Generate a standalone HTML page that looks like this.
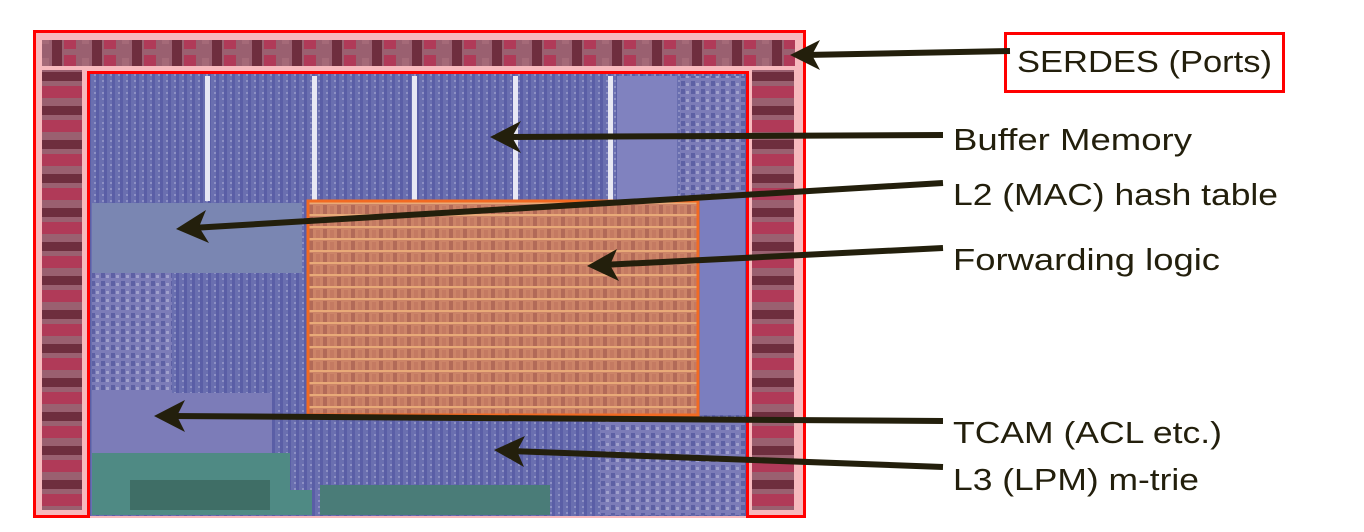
<!DOCTYPE html>
<html><head><meta charset="utf-8"><style>
html,body{margin:0;padding:0;background:#fff;width:1364px;height:532px;overflow:hidden}
svg{display:block}
text{font-family:"Liberation Sans",Arial,sans-serif;fill:#231f0c}
</style></head><body>
<svg width="1364" height="532" viewBox="0 0 1364 532" xmlns="http://www.w3.org/2000/svg">
<defs>
<pattern id="blue" width="8" height="6" patternUnits="userSpaceOnUse">
<rect width="8" height="6" fill="#6a6fb0"/><rect x="0" width="3" height="6" fill="#5a5ea6"/><rect x="6" y="2" width="2" height="2" fill="#8d90c4"/>
</pattern>
<pattern id="blue2" width="10" height="8" patternUnits="userSpaceOnUse">
<rect width="10" height="8" fill="#7c7cb8"/><rect x="1" y="1" width="4" height="5" fill="#5d60a4"/><rect x="6" y="3" width="3" height="3" fill="#a0a0cc"/>
</pattern>
<pattern id="red" width="40" height="26" patternUnits="userSpaceOnUse">
<rect width="40" height="26" fill="#9a6070"/><rect x="12" width="10" height="26" fill="#6e2e3e"/><rect x="24" y="3" width="12" height="20" fill="#b03a58"/><rect x="2" y="6" width="7" height="12" fill="#a56a78"/>
</pattern>
<pattern id="redv" width="40" height="34" patternUnits="userSpaceOnUse">
<rect width="40" height="34" fill="#9a6070"/><rect y="4" width="40" height="9" fill="#6e2e3e"/><rect y="18" width="40" height="12" fill="#b03a58"/>
</pattern>
<pattern id="orange" width="14" height="12" patternUnits="userSpaceOnUse">
<rect width="14" height="12" fill="#cc8468"/><rect x="1" y="1" width="4" height="9" fill="#b26a58"/><rect x="8" y="2" width="4" height="8" fill="#c47a62"/><rect y="10" width="14" height="2" fill="#e8aa78"/>
</pattern>
</defs>
<rect x="33" y="30" width="773" height="488" fill="#f7b9bd"/>
<rect x="42" y="40" width="753" height="26" fill="url(#red)"/>
<rect x="42" y="70" width="40" height="440" fill="url(#redv)"/>
<rect x="752" y="70" width="42" height="440" fill="url(#redv)"/>
<rect x="90" y="74" width="657" height="442" fill="url(#blue)"/>
<rect x="92" y="76" width="515" height="125" fill="url(#blue)"/>
<rect x="205" y="76" width="5" height="125" fill="#e8e8f4"/>
<rect x="312" y="76" width="5" height="125" fill="#e8e8f4"/>
<rect x="412" y="76" width="5" height="125" fill="#e8e8f4"/>
<rect x="513" y="76" width="5" height="125" fill="#e8e8f4"/>
<rect x="608" y="76" width="5" height="125" fill="#e8e8f4"/>
<rect x="617" y="76" width="60" height="125" fill="#8082bf"/>
<rect x="680" y="76" width="65" height="125" fill="url(#blue2)"/>
<rect x="92" y="203" width="210" height="70" fill="#7a86b2"/>
<rect x="92" y="273" width="80" height="120" fill="url(#blue2)"/>
<rect x="180" y="273" width="100" height="90" fill="url(#blue)"/>
<rect x="92" y="393" width="180" height="60" fill="#7c7cb8"/>
<rect x="92" y="453" width="220" height="62" fill="#4f8a84"/>
<rect x="130" y="480" width="140" height="30" fill="#3f6e66"/>
<rect x="290" y="420" width="220" height="70" fill="url(#blue)"/>
<rect x="320" y="485" width="230" height="30" fill="#4a7c78"/>
<rect x="600" y="420" width="145" height="95" fill="url(#blue2)"/>
<rect x="700" y="200" width="45" height="215" fill="#7b7ebf"/>
<rect x="308" y="201" width="390" height="214" fill="url(#orange)"/>
<rect x="308" y="201" width="390" height="214" fill="none" stroke="#f26a22" stroke-width="3"/>
<path d="M88.5 516.5 H34.5 V31.5 H804.5 V516.5 H747.5" fill="none" stroke="#ff0000" stroke-width="3"/>
<path d="M88.5 518 V72.5 H747.5 V518" fill="none" stroke="#ff0000" stroke-width="3"/>
<rect x="1005.5" y="33.5" width="278" height="58" fill="none" stroke="#ff0000" stroke-width="3"/>
<g stroke="#231f0c" stroke-width="6" fill="none">
<line x1="1010" y1="51" x2="805" y2="55"/>
<line x1="943" y1="135" x2="505" y2="137"/>
<line x1="943" y1="183" x2="192" y2="228"/>
<line x1="943" y1="248" x2="602" y2="265"/>
<line x1="943" y1="421" x2="170" y2="416"/>
<line x1="943" y1="467" x2="510" y2="451"/>
</g>
<g fill="#231f0c">
<polygon points="790,55 820,40 812,55 820,70"/>
<polygon points="490,137 521,121 512,137 521,153"/>
<polygon points="176,229 206,210 199,227 209,243"/>
<polygon points="587,266 617,249 610,265 619,281"/>
<polygon points="154,416 185,400 177,416 185,432"/>
<polygon points="494,450 525,436 517,451 524,467"/>
</g>
<text x="1017" y="72" font-size="31" textLength="255" lengthAdjust="spacingAndGlyphs">SERDES (Ports)</text>
<text x="953" y="150" font-size="31" textLength="239" lengthAdjust="spacingAndGlyphs">Buffer Memory</text>
<text x="953" y="205" font-size="31" textLength="325" lengthAdjust="spacingAndGlyphs">L2 (MAC) hash table</text>
<text x="953" y="270" font-size="31" textLength="267" lengthAdjust="spacingAndGlyphs">Forwarding logic</text>
<text x="953" y="443" font-size="31" textLength="269" lengthAdjust="spacingAndGlyphs">TCAM (ACL etc.)</text>
<text x="953" y="490" font-size="31" textLength="246" lengthAdjust="spacingAndGlyphs">L3 (LPM) m-trie</text>
</svg>
</body></html>
